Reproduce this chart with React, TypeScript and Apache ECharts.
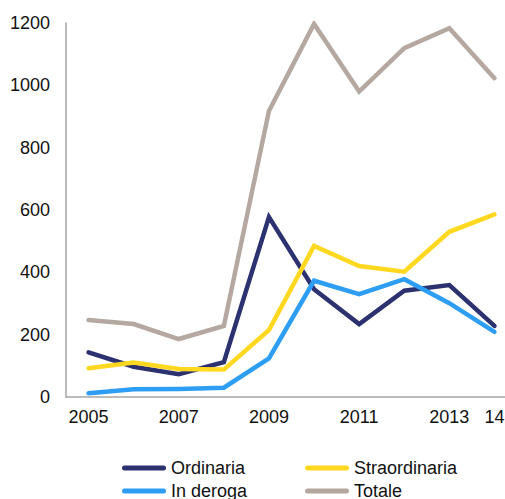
import React, { useEffect, useRef } from "react";
import * as echarts from "echarts";

const years = ["2005", "2006", "2007", "2008", "2009", "2010", "2011", "2012", "2013", "2014"];
const yearLabels = ["2005", "", "2007", "", "2009", "", "2011", "", "2013", "14"];
const ordinaria = [143, 97, 73, 112, 577, 346, 234, 341, 359, 228];
const straordinaria = [92, 111, 90, 88, 215, 485, 420, 402, 530, 586];
const inDeroga = [12, 25, 26, 30, 124, 373, 330, 378, 301, 209];
const totale = [247, 234, 186, 228, 918, 1197, 980, 1119, 1183, 1023];
const yTicks = { min: 0, max: 1200, interval: 200 };

const names = ["Ordinaria", "Straordinaria", "In deroga", "Totale"];
const colors = ["#2C3170", "#FFD81F", "#2E9EF5", "#B4A8A0"];
const seriesData = [ordinaria, straordinaria, inDeroga, totale];

const FONT = "'Liberation Sans', Arial, sans-serif";
const stadium = "path://M2.5,0 L41.5,0 A2.5,2.5 0 0 1 41.5,5 L2.5,5 A2.5,2.5 0 0 1 2.5,0 Z";

export default function App() {
  const ref = useRef<HTMLDivElement>(null);
  useEffect(() => {
    if (!ref.current) return;
    const chart = echarts.init(ref.current, null, { renderer: "svg" });
    const legendPos = [
      { left: 122, top: 459 },
      { left: 305, top: 459 },
      { left: 122, top: 482 },
      { left: 305, top: 482 },
    ];
    chart.setOption({
      animation: false,
      grid: {
        left: 66,
        top: 23,
        width: 451,
        height: 374,
        containLabel: false,
        outerBoundsMode: "none",
      },
      legend: names.map((n, i) => ({
        data: [n],
        left: legendPos[i].left,
        top: legendPos[i].top,
        padding: 0,
        itemWidth: 44,
        itemHeight: 5,
        icon: stadium,
        textStyle: { fontFamily: FONT, fontSize: 18, color: "#111", lineHeight: 18 },
      })),
      xAxis: {
        type: "category",
        data: years,
        boundaryGap: true,
        axisLine: { lineStyle: { color: "#A6A6A6", width: 1.5 } },
        axisTick: { show: false },
        axisLabel: {
          interval: 0,
          margin: 11,
          fontFamily: FONT,
          fontSize: 18,
          color: "#111",
          formatter: (_v: string, idx: number) => yearLabels[idx],
        },
        splitLine: { show: false },
      },
      yAxis: {
        type: "value",
        min: yTicks.min,
        max: yTicks.max,
        interval: yTicks.interval,
        axisLine: { show: true, lineStyle: { color: "#A6A6A6", width: 1.5 } },
        axisTick: { show: false },
        splitLine: { show: false },
        axisLabel: {
          margin: 16,
          fontFamily: FONT,
          fontSize: 18,
          color: "#111",
          formatter: (v: number) => String(v),
        },
      },
      series: names.map((n, i) => ({
        name: n,
        type: "line",
        data: seriesData[i],
        showSymbol: false,
        symbol: "none",
        color: colors[i],
        lineStyle: { color: colors[i], width: 4.5, cap: "round", join: "miter" },
      })),
    });
    return () => chart.dispose();
  }, []);
  return (
    <div
      ref={ref}
      style={{ position: "fixed", left: 0, top: 0, width: 505, height: 499, background: "#fff" }}
    />
  );
}
